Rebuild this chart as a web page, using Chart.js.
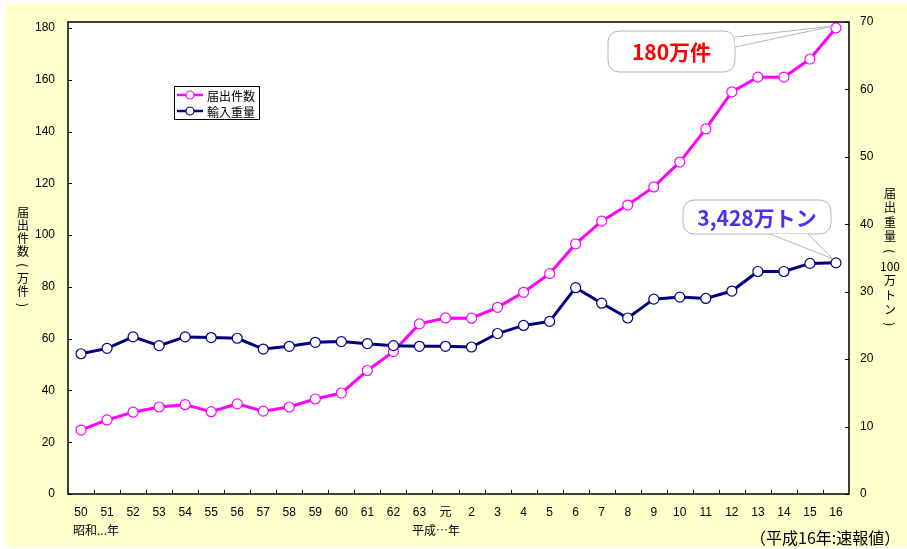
<!DOCTYPE html>
<html>
<head>
<meta charset="utf-8">
<script src="https://cdn.jsdelivr.net/npm/chart.js@4"></script>
<style>
  body { margin: 0; background: #fff; }
  #wrap { width: 907px; height: 549px; }
</style>
</head>
<body>
<div id="wrap"><canvas id="chart" width="907" height="549"></canvas></div>
<script>
// 年（昭和50年〜平成16年）
const years = ["50", "51", "52", "53", "54", "55", "56", "57", "58", "59", "60", "61", "62", "63",
  "元", "2", "3", "4", "5", "6", "7", "8", "9", "10", "11", "12", "13", "14", "15", "16"];

// 届出件数（万件）
const todokedeKensu = [24.7, 28.6, 31.6, 33.6, 34.5, 31.8, 34.8, 32.0, 33.6, 36.7, 39.0, 47.7, 55.0, 65.7,
  68.0, 67.9, 72.1, 77.9, 85.1, 96.6, 105.4, 111.6, 118.6, 128.2, 141.0, 155.3, 161.0, 161.0, 168.0, 180.0];

// 輸入重量（100万トン）
const yunyuJuryo = [20.8, 21.6, 23.3, 22.0, 23.3, 23.2, 23.1, 21.5, 21.9, 22.5, 22.6, 22.3, 22.0, 21.9,
  21.9, 21.8, 23.8, 25.0, 25.6, 30.6, 28.3, 26.1, 28.9, 29.2, 29.0, 30.1, 33.0, 33.0, 34.2, 34.28];

const leftTicks = [0, 20, 40, 60, 80, 100, 120, 140, 160, 180];
const rightTicks = [0, 10, 20, 30, 40, 50, 60, 70];

const MAGENTA = "#FF00FF";
const NAVY = "#000080";
const FONT = '"Liberation Sans", "Noto Sans CJK JP", sans-serif';
const JFONT = '"Noto Sans CJK JP", sans-serif';

const backdrop = {
  id: "backdrop",
  beforeDraw(chart) {
    const ctx = chart.ctx;
    const a = chart.chartArea;
    ctx.save();
    ctx.fillStyle = "#ffffff";
    ctx.fillRect(0, 0, chart.width, chart.height);
    ctx.fillStyle = "#FFFFCC";
    ctx.fillRect(6, 3, chart.width - 6, chart.height - 5);
    ctx.fillStyle = "#ffffff";
    ctx.fillRect(a.left, a.top, a.right - a.left, a.bottom - a.top);
    ctx.restore();
  }
};

// stacked vertical text; "(" and ")" are turned to read as vertical brackets
function vertText(ctx, chars, x, y0, step) {
  chars.forEach((c, i) => {
    const py = y0 + i * step;
    if (c === "(" || c === ")") {
      ctx.save();
      ctx.translate(x, py);
      ctx.rotate(Math.PI / 2);
      ctx.fillText(c, 0, 0);
      ctx.restore();
    } else {
      ctx.fillText(c, x, py);
    }
  });
}

function callout(ctx, box, wedge, tip, text, color) {
  ctx.save();
  ctx.fillStyle = "#ffffff";
  ctx.strokeStyle = "#B4B4B4";
  ctx.lineWidth = 1;
  ctx.beginPath();
  ctx.roundRect(box.x, box.y, box.w, box.h, 11);
  ctx.fill();
  ctx.stroke();
  ctx.beginPath();
  ctx.moveTo(wedge[0][0], wedge[0][1]);
  ctx.lineTo(tip.x, tip.y);
  ctx.lineTo(wedge[1][0], wedge[1][1]);
  ctx.closePath();
  ctx.fill();
  ctx.beginPath();
  ctx.moveTo(wedge[0][0], wedge[0][1]);
  ctx.lineTo(tip.x, tip.y);
  ctx.lineTo(wedge[1][0], wedge[1][1]);
  ctx.stroke();
  ctx.fillStyle = color;
  ctx.font = "bold 21px " + JFONT;
  ctx.textAlign = "center";
  ctx.textBaseline = "middle";
  ctx.fillText(text, box.x + box.w / 2, box.y + box.h / 2 + 1);
  ctx.restore();
}

const decorations = {
  id: "decorations",
  afterDatasetsDraw(chart) {
    const ctx = chart.ctx;
    const a = chart.chartArea;
    const x = chart.scales.x;
    const y = chart.scales.y;
    const y1 = chart.scales.y1;
    ctx.save();

    // frame
    ctx.strokeStyle = "#000000";
    ctx.lineWidth = 1.5;
    ctx.strokeRect(a.left, a.top, a.right - a.left, a.bottom - a.top);

    // inward ticks
    ctx.lineWidth = 1;
    ctx.beginPath();
    leftTicks.forEach((v) => {
      const py = Math.round(y.getPixelForValue(v)) + 0.5;
      ctx.moveTo(a.left, py);
      ctx.lineTo(a.left + 4, py);
    });
    rightTicks.forEach((v) => {
      const py = Math.round(y1.getPixelForValue(v)) + 0.5;
      ctx.moveTo(a.right, py);
      ctx.lineTo(a.right - 4, py);
    });
    for (let i = 0; i < years.length - 1; i++) {
      const px = Math.round((x.getPixelForTick(i) + x.getPixelForTick(i + 1)) / 2) + 0.5;
      ctx.moveTo(px, a.bottom);
      ctx.lineTo(px, a.bottom - 4);
    }
    ctx.stroke();

    // callouts
    const m0 = chart.getDatasetMeta(0).data;
    const m1 = chart.getDatasetMeta(1).data;
    const p0 = m0[m0.length - 1];
    const p1 = m1[m1.length - 1];
    callout(ctx, { x: 608, y: 31, w: 127, h: 41 }, [[735, 37], [735, 47]],
      { x: p0.x - 2, y: p0.y - 2 }, "180万件", "#FF0000");
    callout(ctx, { x: 683, y: 200, w: 148, h: 34 }, [[770, 234], [808, 234]],
      { x: p1.x - 3, y: p1.y - 4 }, "3,428万トン", "#4F2FE8");

    // legend
    ctx.fillStyle = "#ffffff";
    ctx.fillRect(174, 86, 85, 33);
    ctx.strokeStyle = "#000000";
    ctx.lineWidth = 1;
    ctx.strokeRect(174.5, 86.5, 85, 33);
    [[MAGENTA, "届出件数", 95], [NAVY, "輸入重量", 111]].forEach(([c, t, ly]) => {
      ctx.strokeStyle = c;
      ctx.lineWidth = 2.5;
      ctx.beginPath();
      ctx.moveTo(177, ly);
      ctx.lineTo(203, ly);
      ctx.stroke();
      ctx.fillStyle = "#ffffff";
      ctx.lineWidth = 1.2;
      ctx.beginPath();
      ctx.arc(190, ly, 4, 0, Math.PI * 2);
      ctx.fill();
      ctx.stroke();
      ctx.fillStyle = "#000000";
      ctx.font = "12px " + JFONT;
      ctx.textAlign = "left";
      ctx.textBaseline = "middle";
      ctx.fillText(t, 207, ly + 1);
    });

    // axis titles
    ctx.fillStyle = "#000000";
    ctx.font = "12px " + JFONT;
    ctx.textAlign = "center";
    ctx.textBaseline = "middle";
    vertText(ctx, ["届", "出", "件", "数", "(", "万", "件", ")"], 23, 212, 13.3);
    vertText(ctx, ["届", "出", "重", "量", "(", "100", "万", "ト", "ン", ")"], 890, 193, 14.6);

    // era notes
    ctx.textAlign = "left";
    ctx.fillText("昭和...年", 73, 530);
    ctx.fillText("平成…年", 412, 530);
    ctx.font = "16px " + JFONT;
    ctx.fillText("（平成16年:速報値）", 750, 538);
    ctx.restore();
  }
};

const fixedTicks = (list) => (axis) => {
  axis.ticks = list.map((v) => ({ value: v }));
};

new Chart(document.getElementById("chart"), {
  type: "line",
  data: {
    labels: years,
    datasets: [
      {
        label: "届出件数",
        data: todokedeKensu,
        yAxisID: "y",
        borderColor: MAGENTA,
        borderWidth: 3,
        pointRadius: 5,
        pointBorderWidth: 1.2,
        pointBackgroundColor: "#ffffff",
        pointBorderColor: MAGENTA,
        tension: 0,
        order: 1,
      },
      {
        label: "輸入重量",
        data: yunyuJuryo,
        yAxisID: "y1",
        borderColor: NAVY,
        borderWidth: 3,
        pointRadius: 5,
        pointBorderWidth: 1.2,
        pointBackgroundColor: "#ffffff",
        pointBorderColor: NAVY,
        tension: 0,
        order: 0,
      },
    ],
  },
  options: {
    responsive: false,
    animation: false,
    layout: { padding: { top: 22, left: 0, right: 0, bottom: 0 } },
    plugins: {
      legend: { display: false },
      tooltip: { enabled: false },
    },
    scales: {
      x: {
        offset: true,
        grid: { display: false, drawTicks: false },
        border: { display: false },
        ticks: {
          autoSkip: false,
          maxRotation: 0,
          padding: 11,
          color: "#000000",
          font: { family: FONT, size: 12 },
        },
        afterFit: (axis) => { axis.height = 55; },
      },
      y: {
        position: "left",
        min: 0,
        max: 182.3,
        afterBuildTicks: fixedTicks(leftTicks),
        grid: { display: false, drawTicks: false },
        border: { display: false },
        ticks: { padding: 13, color: "#000000", font: { family: FONT, size: 12 } },
        afterFit: (axis) => { axis.width = 68; },
      },
      y1: {
        position: "right",
        min: 0,
        max: 70,
        afterBuildTicks: fixedTicks(rightTicks),
        grid: { display: false, drawTicks: false },
        border: { display: false },
        ticks: { padding: 11, color: "#000000", font: { family: FONT, size: 12 } },
        afterFit: (axis) => { axis.width = 58; },
      },
    },
  },
  plugins: [backdrop, decorations],
});
</script>
</body>
</html>
